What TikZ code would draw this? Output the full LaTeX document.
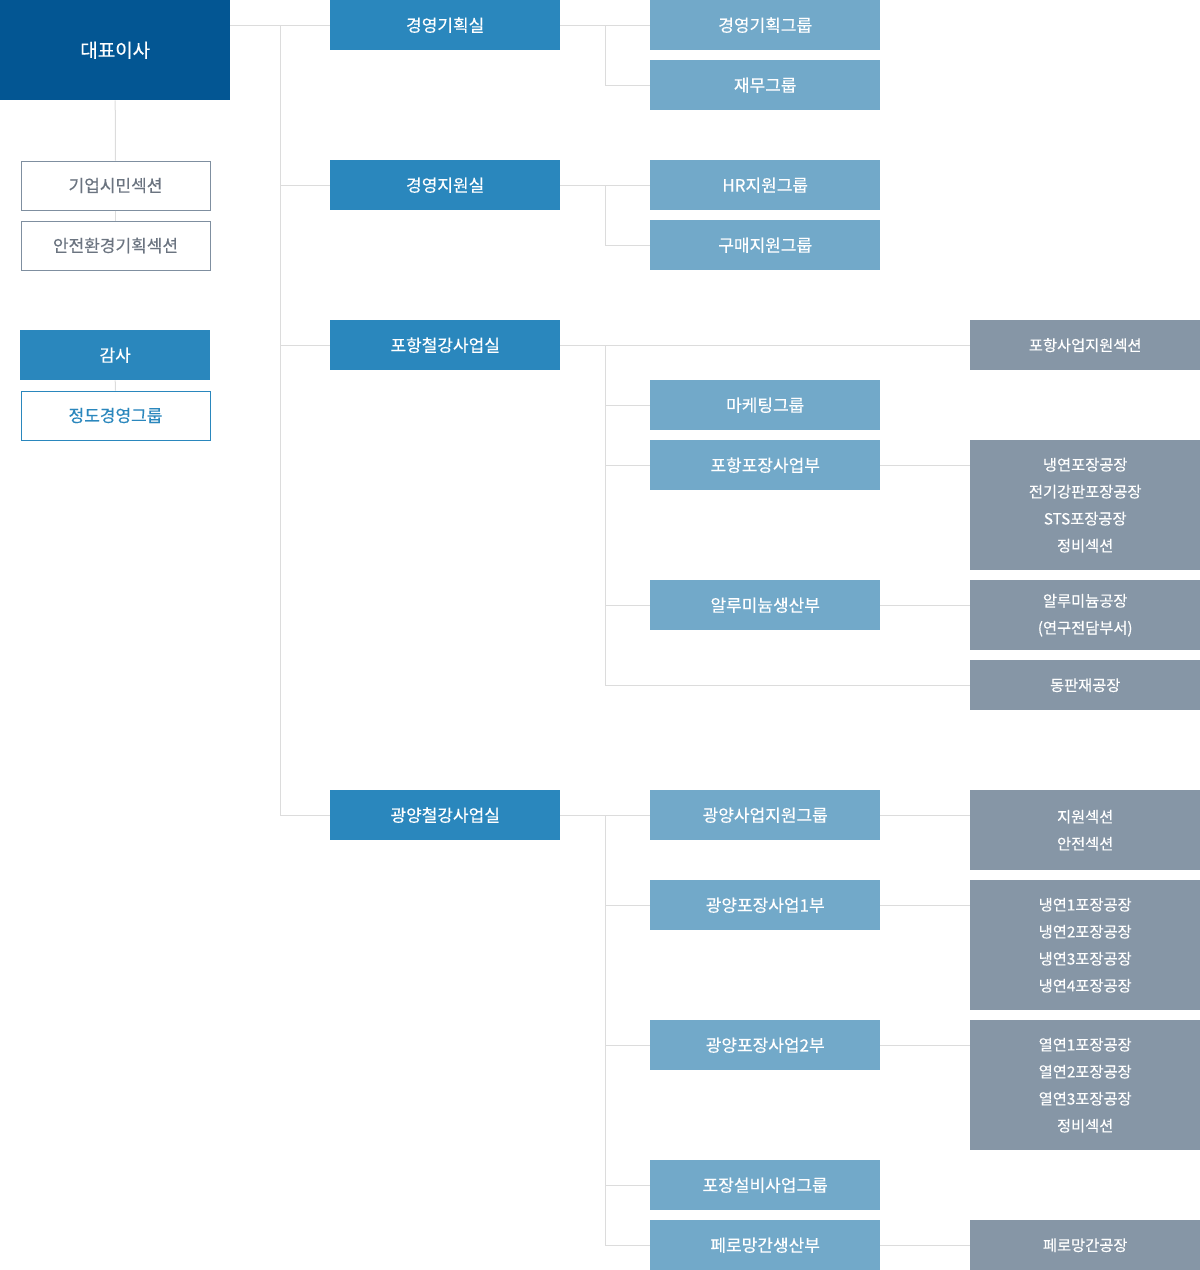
\documentclass[tikz,border=0pt]{standalone}
\usepackage{fontspec}
\setmainfont{Noto Sans CJK KR}[FakeBold=0.4]
\definecolor{ceoblue}{HTML}{035693}
\definecolor{divblue}{HTML}{2A87BD}
\definecolor{grpblue}{HTML}{72A9C9}
\definecolor{facgray}{HTML}{8696A6}
\definecolor{bordergray}{HTML}{7F8FA0}
\definecolor{textgray}{HTML}{6B7480}
\definecolor{linegray}{HTML}{DCDCDC}
\begin{document}
\begin{tikzpicture}[x=1pt,y=-1pt,
  base/.style={anchor=north west, inner sep=0pt, align=center, text=white},
  ceobox/.style={base, fill=ceoblue, minimum width=230pt, minimum height=100pt, font=\fontsize{19}{22}\selectfont},
  divbox/.style={base, fill=divblue, minimum width=230pt, minimum height=50pt, font=\fontsize{17}{20}\selectfont},
  grpbox/.style={base, fill=grpblue, minimum width=230pt, minimum height=50pt, font=\fontsize{17}{20}\selectfont},
  facbox/.style={base, fill=facgray, minimum width=230pt, minimum height=#1, font=\fontsize{15.3}{27}\selectfont},
  secbox/.style={base, draw=bordergray, line width=1pt, fill=white, text=textgray, minimum width=189pt, minimum height=49pt, font=\fontsize{17}{20}\selectfont},
  ethbox/.style={base, draw=divblue, line width=1pt, fill=white, text=divblue, minimum width=189pt, minimum height=49pt, font=\fontsize{17}{20}\selectfont},
  conn/.style={draw=linegray, line width=1pt}
]
\useasboundingbox (0,0) rectangle (1200,1270);

% left column
\node[ceobox] (ceo) at (0,0) {대표이사};
\node[secbox] (s1) at (20.5,160.5) {기업시민섹션};
\node[secbox] (s2) at (20.5,220.5) {안전환경기획섹션};
\node[divbox, minimum width=190pt] (audit) at (20,330) {감사};
\node[ethbox] (eth) at (20.5,390.5) {정도경영그룹};

% divisions
\node[divbox] (d1) at (330,0) {경영기획실};
\node[divbox] (d2) at (330,160) {경영지원실};
\node[divbox] (d3) at (330,320) {포항철강사업실};
\node[divbox] (d4) at (330,790) {광양철강사업실};

% groups
\node[grpbox] (g1) at (650,0) {경영기획그룹};
\node[grpbox] (g2) at (650,60) {재무그룹};
\node[grpbox] (g3) at (650,160) {HR지원그룹};
\node[grpbox] (g4) at (650,220) {구매지원그룹};
\node[grpbox] (g5) at (650,380) {마케팅그룹};
\node[grpbox] (g6) at (650,440) {포항포장사업부};
\node[grpbox] (g7) at (650,580) {알루미늄생산부};
\node[grpbox] (g8) at (650,790) {광양사업지원그룹};
\node[grpbox] (g9) at (650,880) {광양포장사업1부};
\node[grpbox] (g10) at (650,1020) {광양포장사업2부};
\node[grpbox] (g11) at (650,1160) {포장설비사업그룹};
\node[grpbox] (g12) at (650,1220) {페로망간생산부};

% facilities
\node[facbox=50pt] (f1) at (970,320) {포항사업지원섹션};
\node[facbox=130pt] (f2) at (970,440) {냉연포장공장\\전기강판포장공장\\STS포장공장\\정비섹션};
\node[facbox=70pt] (f3) at (970,580) {알루미늄공장\\(연구전담부서)};
\node[facbox=50pt] (f4) at (970,660) {동판재공장};
\node[facbox=80pt] (f5) at (970,790) {지원섹션\\안전섹션};
\node[facbox=130pt] (f6) at (970,880) {냉연1포장공장\\냉연2포장공장\\냉연3포장공장\\냉연4포장공장};
\node[facbox=130pt] (f7) at (970,1020) {열연1포장공장\\열연2포장공장\\열연3포장공장\\정비섹션};
\node[facbox=50pt] (f8) at (970,1220) {페로망간공장};

\coordinate (tx) at (280,0);
\coordinate (bx) at (605,0);

% left vertical links
\draw[conn] (ceo.south) -- (s1.north);
\draw[conn] (s1.south) -- (s2.north);
\draw[conn] (audit.south) -- (eth.north);

% trunk
\draw[conn] (ceo.east |- d1.west) -- (d1.west);
\draw[conn] (tx |- d1.west) -- (tx |- d4.west);
\draw[conn] (tx |- d2.west) -- (d2.west);
\draw[conn] (tx |- d3.west) -- (d3.west);
\draw[conn] (tx |- d4.west) -- (d4.west);

% 경영기획실
\draw[conn] (d1.east) -- (g1.west);
\draw[conn] (bx |- d1.east) |- (g2.west);
% 경영지원실
\draw[conn] (d2.east) -- (g3.west);
\draw[conn] (bx |- d2.east) |- (g4.west);
% 포항철강사업실
\draw[conn] (d3.east) -- (f1.west);
\draw[conn] (bx |- d3.east) |- (f4.west);
\draw[conn] (bx |- g5.west) -- (g5.west);
\draw[conn] (bx |- g6.west) -- (g6.west);
\draw[conn] (bx |- g7.west) -- (g7.west);
\draw[conn] (g6.east) -- (g6.east -| f2.west);
\draw[conn] (g7.east) -- (g7.east -| f3.west);
% 광양철강사업실
\draw[conn] (d4.east) -- (g8.west);
\draw[conn] (bx |- d4.east) |- (g12.west);
\draw[conn] (bx |- g9.west) -- (g9.west);
\draw[conn] (bx |- g10.west) -- (g10.west);
\draw[conn] (bx |- g11.west) -- (g11.west);
\draw[conn] (g8.east) -- (g8.east -| f5.west);
\draw[conn] (g9.east) -- (g9.east -| f6.west);
\draw[conn] (g10.east) -- (g10.east -| f7.west);
\draw[conn] (g12.east) -- (g12.east -| f8.west);
\end{tikzpicture}
\end{document}
